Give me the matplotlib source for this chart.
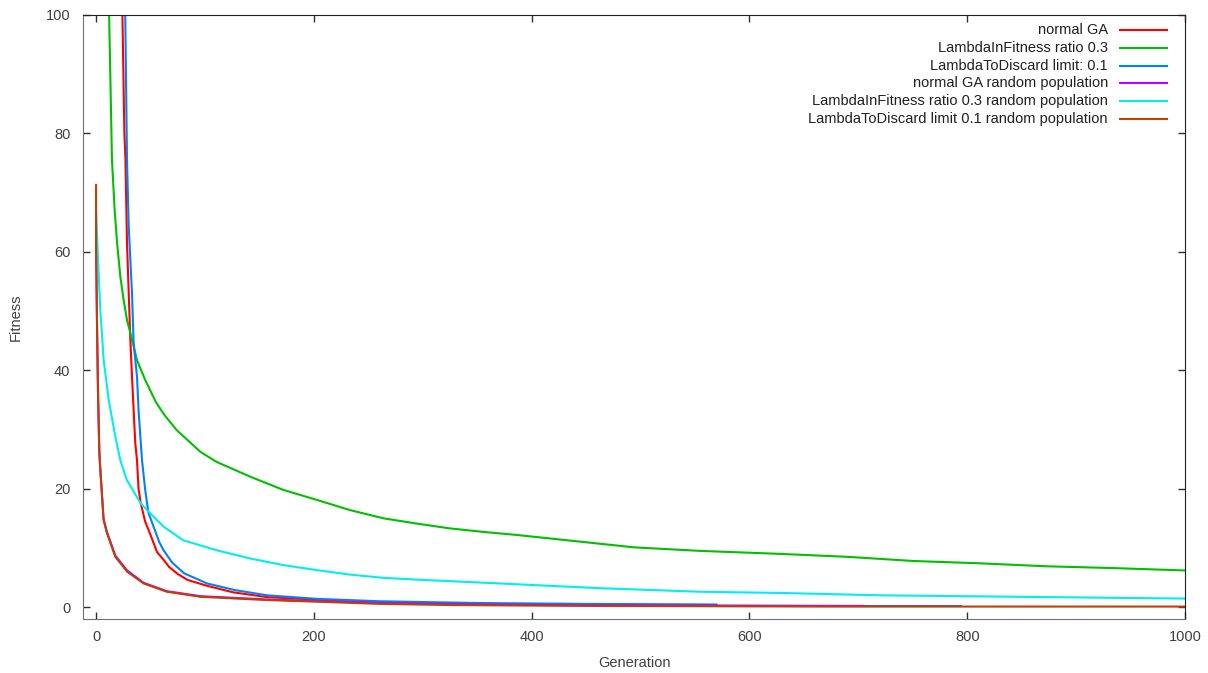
import numpy as np
import matplotlib
matplotlib.use("Agg")
import matplotlib.pyplot as plt

# best fitness per generation for each GA variant
gen_normal = [22, 24.2, 26, 27, 28.4, 30, 31.5, 33, 34.5, 36, 37.6, 39, 41, 45, 50, 56, 62, 67, 75, 84,
              102, 126, 157, 200, 250, 300, 350]
fit_normal = [115, 100, 80, 75.5, 61.5, 53, 45, 38.9, 33.3, 27.7, 24.8, 20, 17.6, 14.5, 12.2, 9.3, 8.0, 6.8, 5.6, 4.6,
              3.6, 2.5, 1.7, 1.3, 0.9, 0.7, 0.6]

gen_ratio = [10, 12, 14.6, 17.1, 19.3, 22.3, 25.3, 28.4, 31.5, 37.6, 45.3, 50, 55, 63, 74, 96, 111, 142, 172, 203,
             233, 264, 295, 325, 356, 386, 417, 494, 555, 628, 690, 750, 812, 873, 934, 1000]
fit_ratio = [115, 100, 75.5, 67, 61.5, 55.8, 51.9, 48.5, 46.3, 41.7, 38.3, 36.5, 34.6, 32.4, 29.9, 26.2, 24.5, 22, 19.8, 18.1,
             16.4, 15.0, 14.1, 13.3, 12.7, 12.2, 11.6, 10.1, 9.5, 9.0, 8.5, 7.8, 7.4, 6.9, 6.6, 6.2]

gen_discard = [25, 26.8, 28.4, 30, 33, 34.5, 37.6, 39, 42.2, 45, 48, 53, 58, 62, 70, 81, 102, 127, 157, 203,
               260, 350, 450, 570, 570, 794]
fit_discard = [115, 100, 75.5, 64.2, 53, 44.6, 38.9, 33.3, 24.8, 20, 16, 13.5, 11, 9.6, 7.5, 5.7, 4.0, 2.9, 2.0, 1.4,
               1.0, 0.7, 0.55, 0.45, 0.2, 0.2]

gen_normal_rnd = [0, 0, 0.9, 1.8, 3, 3.9, 6.9, 10, 17.7, 28.5, 43.7, 65, 96, 157, 206, 261, 328, 420, 705]
fit_normal_rnd = [62, 61, 47.6, 36.3, 26.3, 23.4, 14.9, 12.7, 8.7, 6.2, 4.1, 2.7, 1.85, 1.3, 1.0, 0.7, 0.5, 0.35, 0.2]

gen_ratio_rnd = [0, 1.8, 3.9, 7, 11.6, 17.7, 22.3, 28.2, 40.7, 50, 62, 80, 111, 142, 172, 203, 233, 264, 300,
                 371, 463, 555, 628, 720, 873, 1000]
fit_ratio_rnd = [67, 58.6, 50.2, 41.7, 35, 28.8, 24.8, 21.5, 17.6, 15.8, 13.6, 11.3, 9.6, 8.2, 7.1, 6.25, 5.5, 4.95, 4.6,
                 4.0, 3.2, 2.6, 2.4, 2.0, 1.7, 1.45]

gen_discard_rnd = [0, 0, 0.9, 1.8, 3, 3.9, 6.9, 10, 17.7, 28.5, 43.7, 65, 96, 157, 206, 261, 328, 460, 674, 1000]
fit_discard_rnd = [71.3, 61.5, 47.3, 36, 26, 23.1, 14.7, 12.5, 8.5, 6.0, 4.0, 2.6, 1.75, 1.2, 0.9, 0.55, 0.35, 0.2, 0.1, 0.1]

labels = ["normal GA",
          "LambdaInFitness ratio 0.3",
          "LambdaToDiscard limit: 0.1",
          "normal GA random population",
          "LambdaInFitness ratio 0.3 random population",
          "LambdaToDiscard limit 0.1 random population"]
colors = ["#ff0000", "#00c000", "#0080ff", "#c000ff", "#00eeee", "#c04000"]


def main():
    plt.rcParams['font.family'] = ['Liberation Sans', 'DejaVu Sans']
    plt.rcParams['font.size'] = 10.5

    fig = plt.figure(figsize=(12.08, 6.73), dpi=100)
    ax = fig.add_axes([83 / 1208., 1 - 619 / 673., 1102 / 1208., 604 / 673.])

    series = [(gen_normal, fit_normal), (gen_ratio, fit_ratio), (gen_discard, fit_discard),
              (gen_normal_rnd, fit_normal_rnd), (gen_ratio_rnd, fit_ratio_rnd),
              (gen_discard_rnd, fit_discard_rnd)]
    for (x, y), c in zip(series, colors):
        ax.plot(x, y, color=c, lw=1.5)

    ax.set_xlim(-12, 1000)
    ax.set_ylim(-2, 100)
    ax.set_xticks(np.arange(0, 1001, 200))
    ax.set_yticks(np.arange(0, 101, 20))
    ax.tick_params(direction='in', length=5, width=1, top=True, right=True,
                   colors='#303030', labelcolor='#404040', labelsize=10.5)
    ax.tick_params(axis='y', pad=9)
    ax.tick_params(axis='x', pad=8)
    for side in ('left', 'bottom'):
        ax.spines[side].set_color('#707070')
    for side in ('top', 'right'):
        ax.spines[side].set_color('#202020')

    ax.set_xlabel("Generation", color='#404040')
    ax.set_ylabel("Fitness", color='#404040')
    ax.xaxis.set_label_coords(0.5, -0.062)
    ax.yaxis.set_label_coords(-0.055, 0.5)

    # gnuplot style key: right aligned text, sample line after it
    for i, (lab, c) in enumerate(zip(labels, colors)):
        yk = 0.9745 - i * 0.0293
        ax.text(0.930, yk, lab, transform=ax.transAxes, ha='right', va='center',
                color='#202020')
        ax.plot([0.941, 0.984], [yk, yk], transform=ax.transAxes, color=c, lw=1.5)

    fig.savefig("out.png", dpi=100)


if __name__ == '__main__':
    main()
